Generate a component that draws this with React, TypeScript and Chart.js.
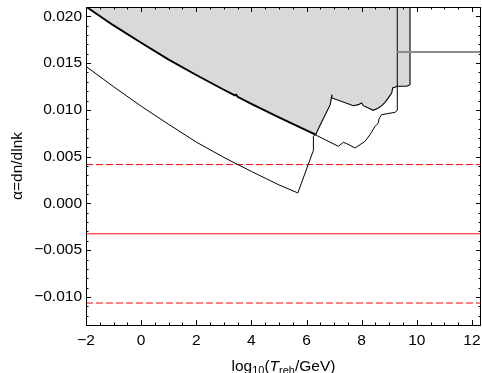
import React, { useEffect, useRef } from "react";
import { Chart, registerables } from "chart.js";

Chart.register(...registerables);

const FONT = "'Liberation Sans', Arial, sans-serif";

// axis ranges and ticks
const xRange = [-2, 12.33];
const yRange = [-0.013, 0.021];
const xMajorTicks = [-2, 0, 2, 4, 6, 8, 10, 12];
const xMinorStep = 0.5;
const yMajorTicks = [-0.01, -0.005, 0, 0.005, 0.01, 0.015, 0.02];
const yMinorStep = 0.001;

// thick upper boundary of the excluded (shaded) region
const thickX = [-2, -1, 0, 1, 2, 3, 3.4, 3.45, 3.5, 4, 5, 6, 6.33];
const thickY = [0.02104, 0.01903, 0.01718, 0.01538, 0.01373, 0.01215, 0.01155, 0.01163, 0.0114, 0.01064, 0.0092, 0.0078, 0.00735];

// jagged edge of the shaded region
const edgeX = [6.33, 6.5, 6.86, 6.92, 6.92, 7.7, 7.88, 8.0, 8.06, 8.42, 8.605, 8.728, 8.848, 8.967, 9.09, 9.127, 9.293, 9.634, 9.754, 9.754];
const edgeY = [0.00735, 0.00842, 0.01056, 0.01163, 0.01128, 0.01045, 0.01056, 0.01074, 0.01045, 0.00995, 0.01021, 0.01045, 0.0108, 0.01128, 0.01181, 0.01234, 0.01252, 0.01252, 0.0127, 0.0215];

// thin curve
const thinX = [-2, -1, 0, 1, 2, 3, 4, 5, 5.685, 6.25, 6.25, 6.31, 7.156, 7.337, 7.46, 7.761, 8.123, 8.304, 8.486, 8.605, 8.63, 8.728, 9.21, 9.293, 9.293];
const thinY = [0.01465, 0.01248, 0.0104, 0.00845, 0.00656, 0.00492, 0.00342, 0.00198, 0.00112, 0.00567, 0.00717, 0.00735, 0.0061, 0.00653, 0.00639, 0.00593, 0.00664, 0.00735, 0.00824, 0.0086, 0.00903, 0.00949, 0.00974, 0.00995, 0.0215];

// gray horizontal segment
const grayX = [9.29, 12.33];
const grayY = [0.0162, 0.0162];

// red reference lines
const redSolidY = -0.00325;
const redDashedY = [0.00415, -0.01065];

const pts = (xs: number[], ys: number[]) => xs.map((x, i) => ({ x, y: ys[i] }));

const fmtMinus = (v: number, d: number) => {
  const s = Math.abs(v).toFixed(d);
  return v < -1e-12 ? "\u2212" + s : s;
};

const framePlugin = {
  id: "frameTicks",
  afterDatasetsDraw(chart: any) {
    const { ctx, chartArea: a, scales } = chart;
    const xs = scales.x;
    const ys = scales.y;
    ctx.save();
    ctx.strokeStyle = "#000";
    ctx.lineWidth = 1;
    ctx.beginPath();
    ctx.rect(Math.round(a.left) + 0.5, Math.round(a.top) + 0.5, Math.round(a.right) - Math.round(a.left) - 1, Math.round(a.bottom) - Math.round(a.top));
    ctx.stroke();
    const isMajor = (v: number, list: number[]) => list.some((m) => Math.abs(m - v) < 1e-9);
    // x ticks (bottom and top, inward)
    ctx.beginPath();
    const nx0 = Math.ceil(xRange[0] / xMinorStep - 1e-9);
    const nx1 = Math.floor(xRange[1] / xMinorStep + 1e-9);
    for (let n = nx0; n <= nx1; n++) {
      const v = n * xMinorStep;
      const len = isMajor(v, xMajorTicks) ? 5 : 2.5;
      const px = Math.round(xs.getPixelForValue(v)) + 0.5;
      ctx.moveTo(px, a.bottom);
      ctx.lineTo(px, a.bottom - len);
      ctx.moveTo(px, a.top);
      ctx.lineTo(px, a.top + len);
    }
    const ny0 = Math.ceil(yRange[0] / yMinorStep - 1e-9);
    const ny1 = Math.floor(yRange[1] / yMinorStep + 1e-9);
    for (let n = ny0; n <= ny1; n++) {
      const v = n * yMinorStep;
      const len = isMajor(v, yMajorTicks) ? 5 : 2.5;
      const py = Math.round(ys.getPixelForValue(v)) + 0.5;
      ctx.moveTo(a.left, py);
      ctx.lineTo(a.left + len, py);
      ctx.moveTo(a.right, py);
      ctx.lineTo(a.right - len, py);
    }
    ctx.stroke();
    ctx.restore();
  },
  afterDraw(chart: any) {
    const { ctx, chartArea: a } = chart;
    ctx.save();
    ctx.fillStyle = "#000";
    ctx.textBaseline = "alphabetic";
    ctx.textAlign = "left";
    const big = 15.5;
    const small = 11;
    const parts = [
      { t: "log", size: big, style: "", dy: 0 },
      { t: "10", size: small, style: "", dy: 3.5 },
      { t: "(", size: big, style: "", dy: 0 },
      { t: "T", size: big, style: "italic ", dy: 0 },
      { t: "reh", size: small, style: "", dy: 3.5 },
      { t: "/GeV)", size: big, style: "", dy: 0 },
    ];
    let total = 0;
    const widths = parts.map((p) => {
      ctx.font = `${p.style}${p.size}px ${FONT}`;
      const w = ctx.measureText(p.t).width;
      total += w;
      return w;
    });
    let x = (a.left + a.right) / 2 - total / 2;
    const base = 370.5;
    parts.forEach((p, i) => {
      ctx.font = `${p.style}${p.size}px ${FONT}`;
      ctx.fillText(p.t, x, base + p.dy);
      x += widths[i];
    });
    // y title
    ctx.translate(21.5, (a.top + a.bottom) / 2);
    ctx.rotate(-Math.PI / 2);
    ctx.textAlign = "center";
    ctx.font = `${big}px ${FONT}`;
    ctx.fillText("\u03B1=dn/dlnk", 0, 0);
    ctx.restore();
  },
};

export default function App() {
  const ref = useRef<HTMLCanvasElement | null>(null);
  useEffect(() => {
    document.body.style.margin = "0";
    const canvas = ref.current;
    if (!canvas) return;
    const line = (data: any[], color: string, width: number, extra: any = {}) => ({
      data,
      borderColor: color,
      borderWidth: width,
      pointRadius: 0,
      showLine: true,
      tension: 0,
      fill: false,
      clip: 0,
      ...extra,
    });
    const chart = new Chart(canvas, {
      type: "scatter",
      data: {
        datasets: [
          line(pts(grayX, grayY), "#8c8c8c", 2),
          line(pts(thickX, thickY), "#000", 1.9),
          line(pts(edgeX, edgeY), "#000", 1.1),
          line(pts(thinX, thinY), "#000", 1),
          line(pts([xRange[0], xRange[1]], [redSolidY, redSolidY]), "#ff0000", 1),
          line(pts([xRange[0], xRange[1]], [redDashedY[0], redDashedY[0]]), "#ff0000", 1, { borderDash: [7, 3] }),
          line(pts([xRange[0], xRange[1]], [redDashedY[1], redDashedY[1]]), "#ff0000", 1, { borderDash: [7, 3] }),
          line(pts(thickX.concat(edgeX.slice(1)), thickY.concat(edgeY.slice(1))), "rgba(0,0,0,0)", 0, {
            fill: "end",
            backgroundColor: "#d9d9d9",
          }),
        ],
      },
      options: {
        responsive: false,
        animation: false,
        devicePixelRatio: 1,
        layout: { padding: { top: 7, right: 1, left: 0, bottom: 0 } },
        plugins: { legend: { display: false }, tooltip: { enabled: false } },
        scales: {
          x: {
            type: "linear",
            min: xRange[0],
            max: xRange[1],
            grid: { display: false, drawTicks: false },
            border: { display: false },
            afterBuildTicks: (s: any) => {
              s.ticks = xMajorTicks.map((value) => ({ value }));
            },
            afterFit: (s: any) => {
              s.height = 48;
              s.paddingLeft = 0;
              s.paddingRight = 0;
            },
            ticks: {
              autoSkip: false,
              maxRotation: 0,
              padding: 6,
              color: "#000",
              font: { family: FONT, size: 15.5 },
              callback: (v: any) => fmtMinus(Number(v), 0),
            },
          },
          y: {
            type: "linear",
            min: yRange[0],
            max: yRange[1],
            grid: { display: false, drawTicks: false },
            border: { display: false },
            afterBuildTicks: (s: any) => {
              s.ticks = yMajorTicks.map((value) => ({ value }));
            },
            afterFit: (s: any) => {
              s.width = 86;
              s.paddingTop = 0;
              s.paddingBottom = 0;
            },
            ticks: {
              autoSkip: false,
              padding: 4,
              color: "#000",
              font: { family: FONT, size: 15.5 },
              callback: (v: any) => fmtMinus(Number(v), 3),
            },
          },
        },
      },
      plugins: [framePlugin],
    });
    return () => chart.destroy();
  }, []);
  return <canvas ref={ref} width={482} height={373} style={{ display: "block" }} />;
}
